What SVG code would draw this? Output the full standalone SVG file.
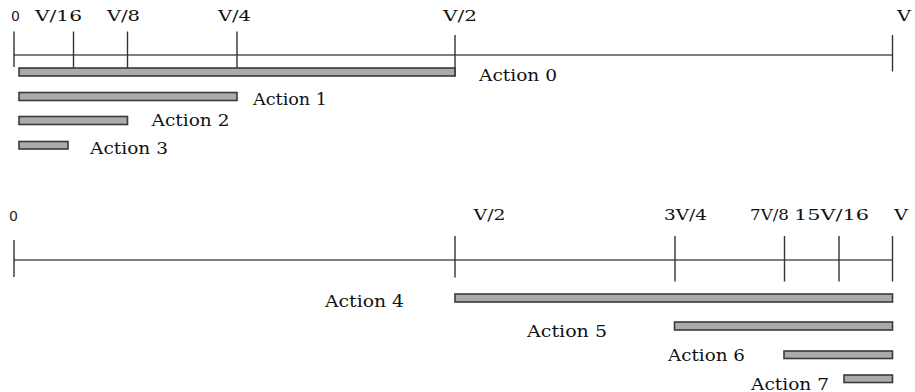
<svg xmlns="http://www.w3.org/2000/svg" width="915" height="392" viewBox="0 0 915 392">
<style>
.lbl{font-family:"DejaVu Serif","Liberation Serif",serif;font-size:15.5px;fill:#111}
.zero{font-family:"DejaVu Sans","Liberation Sans",sans-serif;font-size:14px;fill:#222}
.act{font-family:"DejaVu Serif","Liberation Serif",serif;font-size:16px;fill:#111}
.bar{fill:#ababab;stroke:#3a3a3a;stroke-width:1.6}
.axis{stroke:#000;stroke-width:1.2;fill:none}
.tick{stroke:#333;stroke-width:1.4;fill:none}
</style>
<rect width="915" height="392" fill="#fff"/>
<g id="connectors">
<line class="axis" x1="14" y1="55" x2="892.5" y2="55"/>
<line class="tick" x1="14" y1="31.5" x2="14" y2="67"/>
<line class="tick" x1="73.5" y1="31.5" x2="73.5" y2="68"/>
<line class="tick" x1="127.5" y1="31.5" x2="127.5" y2="68"/>
<line class="tick" x1="237" y1="31.5" x2="237" y2="68"/>
<line class="tick" x1="455" y1="35" x2="455" y2="76.5"/>
<line class="tick" x1="892.5" y1="35" x2="892.5" y2="71.5"/>
<line class="axis" x1="14" y1="260" x2="892.5" y2="260"/>
<line class="tick" x1="14" y1="240" x2="14" y2="277"/>
<line class="tick" x1="455" y1="236" x2="455" y2="277.5"/>
<line class="tick" x1="675" y1="236" x2="675" y2="281.5"/>
<line class="tick" x1="784.5" y1="236" x2="784.5" y2="281.5"/>
<line class="tick" x1="839" y1="236" x2="839" y2="281.5"/>
<line class="tick" x1="892.5" y1="236" x2="892.5" y2="281.5"/>
</g>
<g id="top-labels">
<text class="zero" x="11" y="20.5">0</text>
<text class="lbl" x="35" y="21" textLength="47" lengthAdjust="spacingAndGlyphs">V/16</text>
<text class="lbl" x="107" y="21" textLength="33" lengthAdjust="spacingAndGlyphs">V/8</text>
<text class="lbl" x="218" y="21" textLength="33" lengthAdjust="spacingAndGlyphs">V/4</text>
<text class="lbl" x="443" y="21" textLength="34" lengthAdjust="spacingAndGlyphs">V/2</text>
<text class="lbl" x="897" y="21" textLength="14" lengthAdjust="spacingAndGlyphs">V</text>
</g>
<g id="bottom-labels">
<text class="zero" x="9" y="220.5">0</text>
<text class="lbl" x="473.5" y="219.5" textLength="32" lengthAdjust="spacingAndGlyphs">V/2</text>
<text class="lbl" x="664" y="219.5" textLength="43" lengthAdjust="spacingAndGlyphs">3V/4</text>
<text class="lbl" x="750" y="219.5" textLength="39" lengthAdjust="spacingAndGlyphs">7V/8</text>
<text class="lbl" x="794" y="219.5" textLength="75" lengthAdjust="spacingAndGlyphs">15V/16</text>
<text class="lbl" x="894" y="219.5" textLength="14" lengthAdjust="spacingAndGlyphs">V</text>
</g>
<g id="action0"><rect class="bar" x="19" y="68" width="436" height="8"/><text class="act" x="479" y="81" textLength="78" lengthAdjust="spacingAndGlyphs">Action 0</text></g>
<g id="action1"><rect class="bar" x="19" y="92.5" width="218" height="8"/><text class="act" x="253" y="105" textLength="74" lengthAdjust="spacingAndGlyphs">Action 1</text></g>
<g id="action2"><rect class="bar" x="19" y="116.5" width="108.5" height="8"/><text class="act" x="151.5" y="126" textLength="78" lengthAdjust="spacingAndGlyphs">Action 2</text></g>
<g id="action3"><rect class="bar" x="19" y="141.5" width="49" height="7.5"/><text class="act" x="90" y="154" textLength="78" lengthAdjust="spacingAndGlyphs">Action 3</text></g>
<g id="action4"><rect class="bar" x="455" y="294" width="437.5" height="8"/><text class="act" x="325" y="306.5" textLength="79" lengthAdjust="spacingAndGlyphs">Action 4</text></g>
<g id="action5"><rect class="bar" x="674.5" y="322" width="218" height="8"/><text class="act" x="527" y="337" textLength="80" lengthAdjust="spacingAndGlyphs">Action 5</text></g>
<g id="action6"><rect class="bar" x="784" y="351" width="108.5" height="7.5"/><text class="act" x="668" y="361" textLength="77" lengthAdjust="spacingAndGlyphs">Action 6</text></g>
<g id="action7"><rect class="bar" x="844" y="375" width="48.5" height="7.5"/><text class="act" x="751" y="389.5" textLength="78" lengthAdjust="spacingAndGlyphs">Action 7</text></g>
</svg>
